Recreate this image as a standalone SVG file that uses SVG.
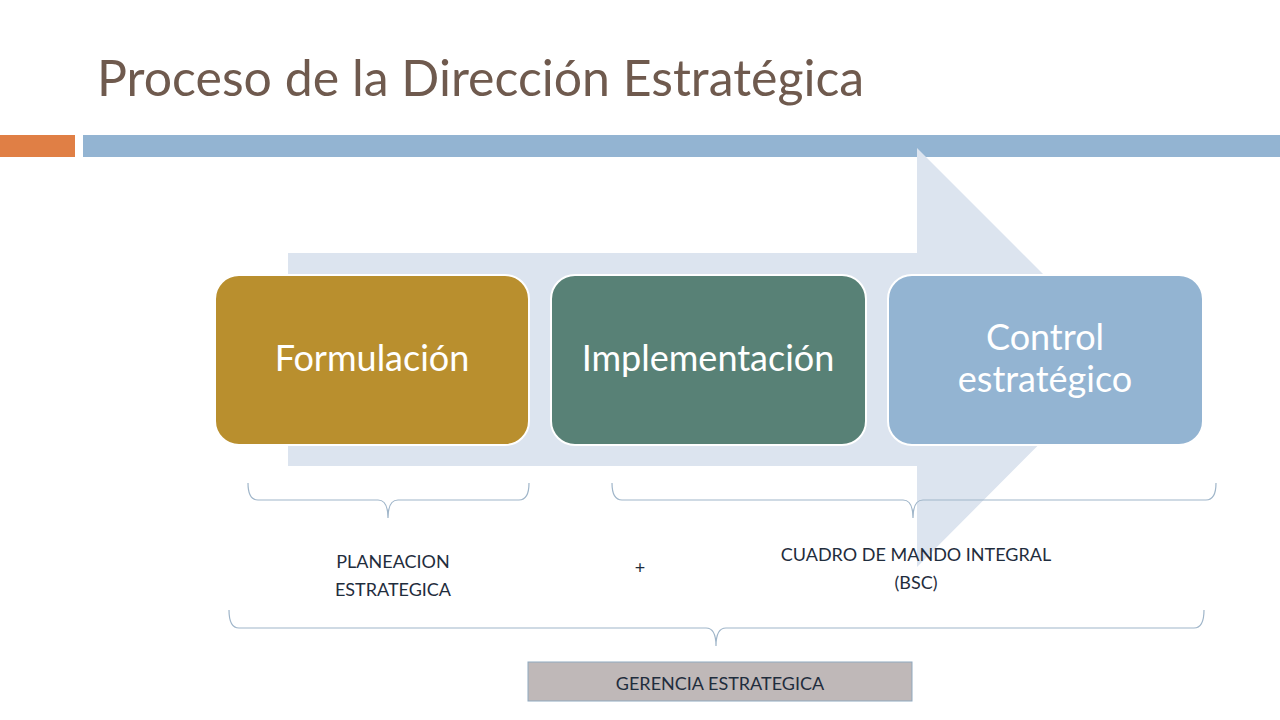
<svg xmlns="http://www.w3.org/2000/svg" width="1280" height="720" viewBox="0 0 1280 720">
<style>
.box{stroke:#fff;stroke-width:2}
.bt{font-family:Lato,"Open Sans",sans-serif;font-size:36px;fill:#fff;text-anchor:middle}
.lbl{font-family:Lato,"Open Sans",sans-serif;font-size:18px;fill:#1f2d3d;text-anchor:middle}
.br{fill:none;stroke:#9fb5c9;stroke-width:1.2}
</style>
<rect width="1280" height="720" fill="#fff"/>
<text x="97" y="96" font-family="Lato,'Open Sans',sans-serif" font-size="50" fill="#6f5a4e">Proceso de la Dirección Estratégica</text>
<rect x="0" y="135" width="75" height="22" fill="#e07f45"/>
<rect x="83" y="135" width="1197" height="22" fill="#93b4d2"/>
<polygon points="288,253 917,253 917,148 1126,357 917,567 917,466 288,466" fill="#dce4ef"/>
<g id="formulacion"><rect class="box" x="215" y="275" width="314" height="170" rx="24" fill="#b98f2e"/><text class="bt" x="372" y="371">Formulación</text></g>
<g id="implementacion"><rect class="box" x="551" y="275" width="315" height="170" rx="24" fill="#588176"/><text class="bt" x="708" y="371">Implementación</text></g>
<g id="control"><rect class="box" x="888" y="275" width="315" height="170" rx="24" fill="#93b4d2"/><text class="bt" x="1045" y="350">Control</text><text class="bt" x="1045" y="392">estratégico</text></g>
<g id="connectors">
<path class="br" d="M248,483 Q248,500 258,500 L378,500 Q388,500 388,518 Q388,500 398,500 L519,500 Q529,500 529,483"/>
<path class="br" d="M612,483 Q612,500 622,500 L903,500 Q913,500 913,518 Q913,500 923,500 L1206,500 Q1216,500 1216,483"/>
<path class="br" d="M229,610 Q229,628 239,628 L706,628 Q716,628 716,646 Q716,628 726,628 L1194,628 Q1204,628 1204,610"/>
</g>
<g id="planeacion"><text class="lbl" x="393" y="568">PLANEACION</text><text class="lbl" x="393" y="596">ESTRATEGICA</text></g>
<text class="lbl" x="640" y="574" font-size="24">+</text>
<g id="cuadro"><text class="lbl" x="916" y="561">CUADRO DE MANDO INTEGRAL</text><text class="lbl" x="916" y="589">(BSC)</text></g>
<g id="gerencia"><rect x="528" y="662" width="384" height="39" fill="#bfb8b8" stroke="#8fa9bf"/><text class="lbl" x="720" y="690">GERENCIA ESTRATEGICA</text></g>
</svg>
